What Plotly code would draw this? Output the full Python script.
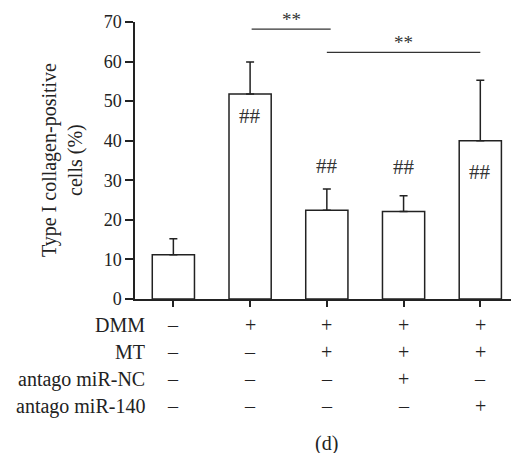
import plotly.graph_objects as go

categories = ["G1", "G2", "G3", "G4", "G5"]
means = [11.2, 51.8, 22.4, 22.1, 40.0]
errors = [4.0, 8.1, 5.4, 4.0, 15.3]
hash_labels = ["", "##", "##", "##", "##"]
hash_y = [0, 46.3, 33.7, 33.4, 32.0]
row_names = ["DMM", "MT", "antago miR-NC", "antago miR-140"]
row_signs = [
    ["–", "+", "+", "+", "+"],
    ["–", "–", "+", "+", "+"],
    ["–", "–", "–", "+", "–"],
    ["–", "–", "–", "–", "+"],
]
row_y = [-6.6, -13.4, -20.3, -27.1]
sig_pairs = [(1.02, 2.05, 68.2, "**"), (2.0, 4.0, 62.3, "**")]

FONT = "Liberation Serif"
FS = 20
YMAX = 70.0
L, T = 135, 22
PW = 376
x_idx = list(range(len(categories)))


def py(v):
    return v / YMAX


def px(p):
    return (p - L) / PW


def text_ann(x, y, text, xref="x", size=FS, color="#222", **kw):
    d = dict(x=x, y=y, xref=xref, yref="paper", text=text, showarrow=False,
             xanchor="center", yanchor="middle",
             font=dict(family=FONT, size=size, color=color))
    d.update(kw)
    return d


fig = go.Figure()
fig.add_trace(go.Bar(
    x=x_idx, y=means, width=0.55,
    marker=dict(color="white", line=dict(color="#222", width=1.5)),
    error_y=dict(type="data", array=errors, arrayminus=[0] * 5, symmetric=False,
                 color="#222", thickness=1.5, width=4),
    showlegend=False, hoverinfo="skip",
))

ann = []
for i, (t, yv) in enumerate(zip(hash_labels, hash_y)):
    if t:
        ann.append(text_ann(i, py(yv), t, size=21, color="#333"))
for name, signs, yv in zip(row_names, row_signs, row_y):
    ann.append(text_ann(px(147), py(yv), name, xref="paper", xanchor="right"))
    for i, s in enumerate(signs):
        ann.append(text_ann(i, py(yv), s))

ann.append(text_ann(2.0, py(-36.6), "(d)"))
ann.append(text_ann(px(62), py(35.1), "Type I collagen-positive<br>cells (%)",
                    xref="paper", textangle=-90, size=20))

shapes = []
for x0, x1, yv, t in sig_pairs:
    shapes.append(dict(type="line", xref="x", yref="paper", x0=x0, x1=x1,
                       y0=py(yv), y1=py(yv), line=dict(color="#333", width=1.2)))
    ann.append(text_ann((x0 + x1) / 2, py(yv + 2.4), t, size=19, color="#333"))

fig.update_layout(
    width=511, height=453,
    margin=dict(l=L, r=0, t=T, b=154),
    plot_bgcolor="white", paper_bgcolor="white",
    annotations=ann, shapes=shapes,
    xaxis=dict(range=[-0.5, 4.4], showline=True, linecolor="#222", linewidth=1.5,
               ticks="outside", ticklen=6, tickcolor="#222", tickwidth=1.5,
               tickvals=x_idx, showticklabels=False, showgrid=False, zeroline=False),
    yaxis=dict(range=[0, YMAX], showline=True, linecolor="#222", linewidth=1.5,
               ticks="outside", ticklen=8, tickcolor="#222", tickwidth=1.5,
               tickvals=[0, 10, 20, 30, 40, 50, 60, 70], showgrid=False, zeroline=False,
               tickfont=dict(family=FONT, size=18, color="#222")),
)
fig.write_html("out.html", config={"displayModeBar": False},
               post_script="document.body.style.margin='0';document.body.style.overflow='hidden';")
